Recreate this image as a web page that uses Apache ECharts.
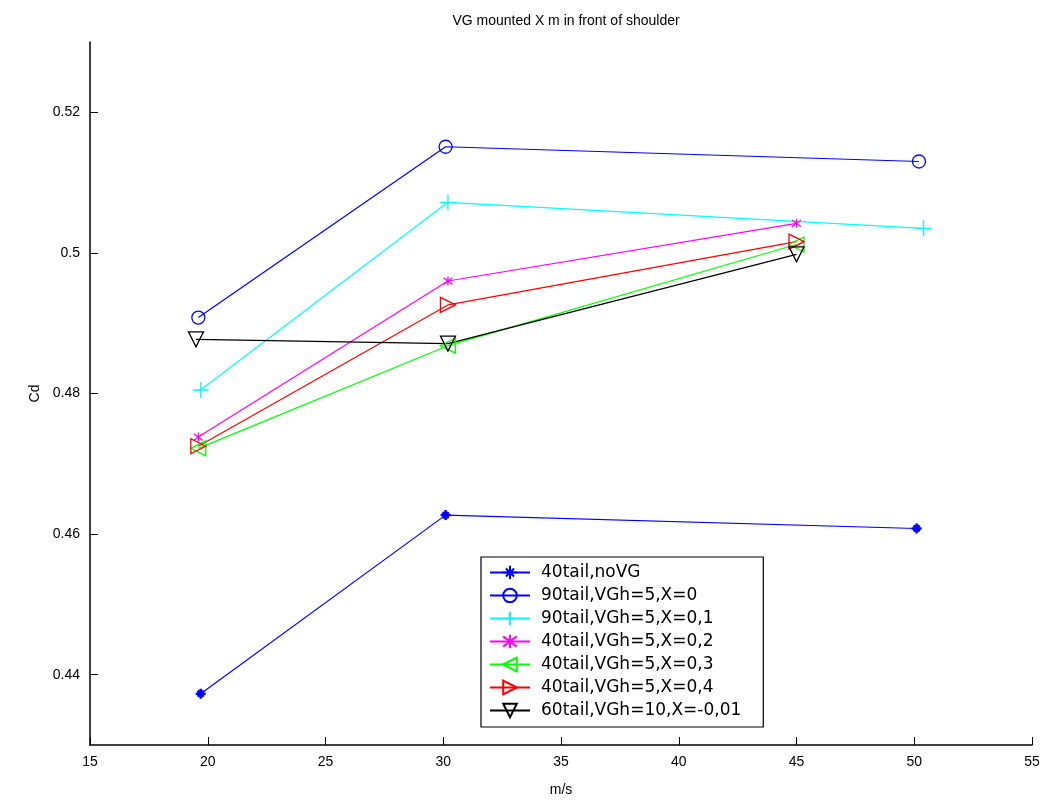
<!DOCTYPE html>
<html>
<head>
<meta charset="utf-8">
<script src="https://cdn.jsdelivr.net/npm/echarts@6/dist/echarts.min.js"></script>
<style>
  html, body { margin: 0; padding: 0; background: #fff; }
  #chart { width: 1051px; height: 802px; }
</style>
</head>
<body>
<div id="chart"></div>
<script>
  // values (speed in m/s, drag coefficient Cd)
  var names = [
    '40tail,noVG',
    '90tail,VGh=5,X=0',
    '90tail,VGh=5,X=0,1',
    '40tail,VGh=5,X=0,2',
    '40tail,VGh=5,X=0,3',
    '40tail,VGh=5,X=0,4',
    '60tail,VGh=10,X=-0,01'
  ];
  var speed_noVG = [19.7, 30.1, 50.1];
  var cd_noVG = [0.4373, 0.4627, 0.4608];
  var speed_x0 = [19.6, 30.1, 50.2];
  var cd_x0 = [0.4908, 0.5151, 0.5130];
  var speed_x01 = [19.7, 30.2, 50.4];
  var cd_x01 = [0.4805, 0.5072, 0.5035];
  var speed_x02 = [19.6, 30.2, 45.0];
  var cd_x02 = [0.4738, 0.4960, 0.5042];
  var speed_x03 = [19.6, 30.2, 45.0];
  var cd_x03 = [0.4722, 0.4868, 0.5012];
  var speed_x04 = [19.6, 30.2, 45.0];
  var cd_x04 = [0.4725, 0.4926, 0.5016];
  var speed_x001 = [19.5, 30.2, 45.0];
  var cd_x001 = [0.4877, 0.4871, 0.4998];
  var xTicks = [15, 20, 25, 30, 35, 40, 45, 50, 55];
  var yTicks = [0.44, 0.46, 0.48, 0.5, 0.52];

  var colors = ['#0000ff', '#0000ff', '#00ffff', '#ff00ff', '#00ff00', '#ff0000', '#000000'];
  // matlab-like markers
  var markers = [
    'path://M5,0L5,10M0,5L10,5M2,2L8,8M8,2L2,8',
    'circle',
    'path://M5,0L5,10M0,5L10,5',
    'path://M2,2L8,8M8,2L2,8M5,1L5,9',
    'path://M0,5L10,0L10,10Z',
    'path://M10,5L0,0L0,10Z',
    'path://M0,0L10,0L5,10Z'
  ];
  var markerSize = [10, 13, 16, 9, 15, 15, 15];

  function pairs(xs, ys) {
    return xs.map(function (x, i) { return [x, ys[i]]; });
  }
  var data = [
    pairs(speed_noVG, cd_noVG),
    pairs(speed_x0, cd_x0),
    pairs(speed_x01, cd_x01),
    pairs(speed_x02, cd_x02),
    pairs(speed_x03, cd_x03),
    pairs(speed_x04, cd_x04),
    pairs(speed_x001, cd_x001)
  ];

  var series = names.map(function (n, i) {
    return {
      name: n,
      type: 'line',
      data: data[i],
      symbol: markers[i],
      symbolSize: markerSize[i],
      showAllSymbol: true,
      lineStyle: { color: colors[i], width: 1.2 },
      itemStyle: { color: 'transparent', borderColor: colors[i], borderWidth: i === 0 ? 2.5 : 1.3 },
      emphasis: { disabled: true },
      animation: false
    };
  });

  var chart = echarts.init(document.getElementById('chart'));
  var font = 'Liberation Sans, Arial, sans-serif';
  chart.setOption({
    backgroundColor: '#fff',
    textStyle: { fontFamily: font },
    title: {
      text: 'VG mounted X m in front of shoulder',
      left: 561, top: 9, textAlign: 'center',
      textStyle: { fontSize: 14, fontWeight: 'normal', color: '#000', fontFamily: font }
    },
    legend: {
      orient: 'vertical',
      left: 481, top: 557,
      width: 285,
      padding: [7, 22, 8, 8],
      itemGap: 6,
      itemWidth: 40, itemHeight: 17,
      borderColor: '#000', borderWidth: 1.2,
      backgroundColor: '#fff',
      textStyle: { fontSize: 17, color: '#000', fontFamily: 'DejaVu Sans, sans-serif', padding: [0, 0, 0, 6] },
      data: names
    },
    grid: { left: 90, right: 19, top: 42, bottom: 57, containLabel: false },
    xAxis: {
      type: 'value',
      min: 15, max: 55, interval: 5,
      name: 'm/s', nameLocation: 'middle', nameGap: 38,
      nameTextStyle: { fontSize: 14, color: '#000' },
      axisLine: { lineStyle: { color: '#000', width: 1.5 } },
      axisTick: { inside: true, length: 8, lineStyle: { color: '#000' } },
      axisLabel: { fontSize: 14, color: '#000', margin: 10, customValues: xTicks },
      splitLine: { show: false }
    },
    yAxis: {
      type: 'value',
      min: 0.43, max: 0.53,
      name: 'Cd', nameLocation: 'middle', nameGap: 46,
      nameTextStyle: { fontSize: 14, color: '#000' },
      axisLine: { show: true, lineStyle: { color: '#000', width: 1.5 } },
      axisTick: { show: true, inside: true, length: 8, lineStyle: { color: '#000' }, customValues: yTicks },
      axisLabel: { fontSize: 14, color: '#000', margin: 10, customValues: yTicks },
      splitLine: { show: false }
    },
    series: series
  });
</script>
</body>
</html>
